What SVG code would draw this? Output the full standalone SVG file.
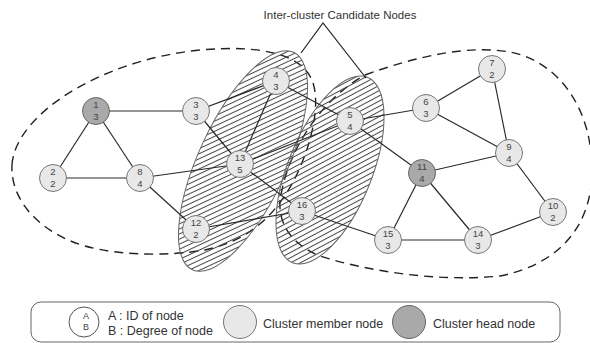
<svg xmlns="http://www.w3.org/2000/svg" width="590" height="343" viewBox="0 0 590 343">
<style>
.t{font-family:"Liberation Sans",Arial,sans-serif;fill:#333}
.nt{font-family:"Liberation Sans",Arial,sans-serif;font-size:9.5px;fill:#444;text-anchor:middle}
.m{fill:#e8e8e8;stroke:#777;stroke-width:1}
.h{fill:#a9a9a9;stroke:#666;stroke-width:1}
.e{stroke:#2a2a2a;stroke-width:1.2;fill:none}
.cl{fill:none;stroke:#222;stroke-width:1.4;stroke-dasharray:9 6}
.hat{fill:url(#hatch);stroke:#666;stroke-width:1}
</style>
<defs>
<pattern id="hatch" patternUnits="userSpaceOnUse" width="8" height="4.6" patternTransform="rotate(-50)">
<line x1="0" y1="2.3" x2="8" y2="2.3" stroke="#444" stroke-width="1"/>
</pattern>
</defs>
<rect width="590" height="343" fill="#fff"/>
<g id="clusters">
<path class="cl" d="M12,165 C15,115 100,60 200,50 C255,45 300,52 312,80 C322,105 310,150 293,182 C275,215 250,240 205,250 C170,256 120,256 85,246 C40,233 10,200 12,165 Z"/>
<path class="cl" d="M365,75 C420,55 470,45 510,52 C560,62 592,110 592,170 C592,230 555,265 500,276 C440,282 370,272 320,256 C285,242 275,215 282,190 C290,150 320,100 365,75 Z"/>
</g>
<g id="candidates">
<ellipse class="hat" cx="243" cy="161" rx="44" ry="120" transform="rotate(25 243 161)"/>
<ellipse class="hat" cx="330" cy="170" rx="42" ry="100" transform="rotate(22 330 170)"/>
</g>
<g id="title">
<text class="t" x="340" y="19" font-size="11.5" text-anchor="middle">Inter-cluster Candidate Nodes</text>
<path d="M301,53 L323,23 L366,78" fill="none" stroke="#222" stroke-width="1.2"/>
</g>
<g id="edges" class="e">
<line x1="96" y1="111" x2="196" y2="111"/>
<line x1="96" y1="111" x2="53" y2="178"/>
<line x1="96" y1="111" x2="140" y2="178"/>
<line x1="53" y1="178" x2="140" y2="178"/>
<line x1="196" y1="111" x2="276" y2="81"/>
<line x1="196" y1="111" x2="240" y2="164"/>
<line x1="276" y1="81" x2="240" y2="164"/>
<line x1="276" y1="81" x2="350" y2="121"/>
<line x1="140" y1="178" x2="240" y2="164"/>
<line x1="140" y1="178" x2="196" y2="229"/>
<line x1="240" y1="164" x2="350" y2="121"/>
<line x1="240" y1="164" x2="302" y2="211"/>
<line x1="196" y1="229" x2="302" y2="211"/>
<line x1="302" y1="211" x2="388" y2="240"/>
<line x1="350" y1="121" x2="426" y2="108"/>
<line x1="350" y1="121" x2="422" y2="173"/>
<line x1="426" y1="108" x2="492" y2="69"/>
<line x1="426" y1="108" x2="509" y2="153"/>
<line x1="492" y1="69" x2="509" y2="153"/>
<line x1="509" y1="153" x2="422" y2="173"/>
<line x1="509" y1="153" x2="553" y2="212"/>
<line x1="422" y1="173" x2="388" y2="240"/>
<line x1="422" y1="173" x2="478" y2="240"/>
<line x1="388" y1="240" x2="478" y2="240"/>
<line x1="478" y1="240" x2="553" y2="212"/>
</g>
<g id="n1"><circle class="h" cx="96" cy="111" r="13.5"/><text class="nt" x="96" y="108">1</text><text class="nt" x="96" y="120">3</text></g>
<g id="n2"><circle class="m" cx="53" cy="178" r="13.5"/><text class="nt" x="53" y="175">2</text><text class="nt" x="53" y="187">2</text></g>
<g id="n3"><circle class="m" cx="196" cy="111" r="13.5"/><text class="nt" x="196" y="108">3</text><text class="nt" x="196" y="120">3</text></g>
<g id="n4"><circle class="m" cx="276" cy="81" r="13.5"/><text class="nt" x="276" y="78">4</text><text class="nt" x="276" y="90">3</text></g>
<g id="n5"><circle class="m" cx="350" cy="121" r="13.5"/><text class="nt" x="350" y="118">5</text><text class="nt" x="350" y="130">4</text></g>
<g id="n6"><circle class="m" cx="426" cy="108" r="13.5"/><text class="nt" x="426" y="105">6</text><text class="nt" x="426" y="117">3</text></g>
<g id="n7"><circle class="m" cx="492" cy="69" r="13.5"/><text class="nt" x="492" y="66">7</text><text class="nt" x="492" y="78">2</text></g>
<g id="n8"><circle class="m" cx="140" cy="178" r="13.5"/><text class="nt" x="140" y="175">8</text><text class="nt" x="140" y="187">4</text></g>
<g id="n9"><circle class="m" cx="509" cy="153" r="13.5"/><text class="nt" x="509" y="150">9</text><text class="nt" x="509" y="162">4</text></g>
<g id="n10"><circle class="m" cx="553" cy="212" r="13.5"/><text class="nt" x="553" y="209">10</text><text class="nt" x="553" y="221">2</text></g>
<g id="n11"><circle class="h" cx="422" cy="173" r="13.5"/><text class="nt" x="422" y="170">11</text><text class="nt" x="422" y="182">4</text></g>
<g id="n12"><circle class="m" cx="196" cy="229" r="13.5"/><text class="nt" x="196" y="226">12</text><text class="nt" x="196" y="238">2</text></g>
<g id="n13"><circle class="m" cx="240" cy="164" r="13.5"/><text class="nt" x="240" y="161">13</text><text class="nt" x="240" y="173">5</text></g>
<g id="n14"><circle class="m" cx="478" cy="240" r="13.5"/><text class="nt" x="478" y="237">14</text><text class="nt" x="478" y="249">3</text></g>
<g id="n15"><circle class="m" cx="388" cy="240" r="13.5"/><text class="nt" x="388" y="237">15</text><text class="nt" x="388" y="249">3</text></g>
<g id="n16"><circle class="m" cx="302" cy="211" r="13.5"/><text class="nt" x="302" y="208">16</text><text class="nt" x="302" y="220">3</text></g>
<g id="legend">
<rect x="31" y="302" width="529" height="40" rx="10" fill="#fff" stroke="#666" stroke-width="1"/>
<circle cx="84" cy="322" r="15" fill="#fff" stroke="#555" stroke-width="1"/>
<text class="nt" x="86" y="319" style="font-size:9px">A</text>
<text class="nt" x="86" y="330" style="font-size:9px">B</text>
<text class="t" x="108" y="320" font-size="12.5">A : ID of node</text>
<text class="t" x="108" y="335" font-size="12.5">B : Degree of node</text>
<circle class="m" cx="240" cy="322" r="16.5"/>
<text class="t" x="263" y="328" font-size="12.5">Cluster member node</text>
<circle class="h" cx="409" cy="322" r="16.5"/>
<text class="t" x="433" y="328" font-size="12.5">Cluster head node</text>
</g>
</svg>
